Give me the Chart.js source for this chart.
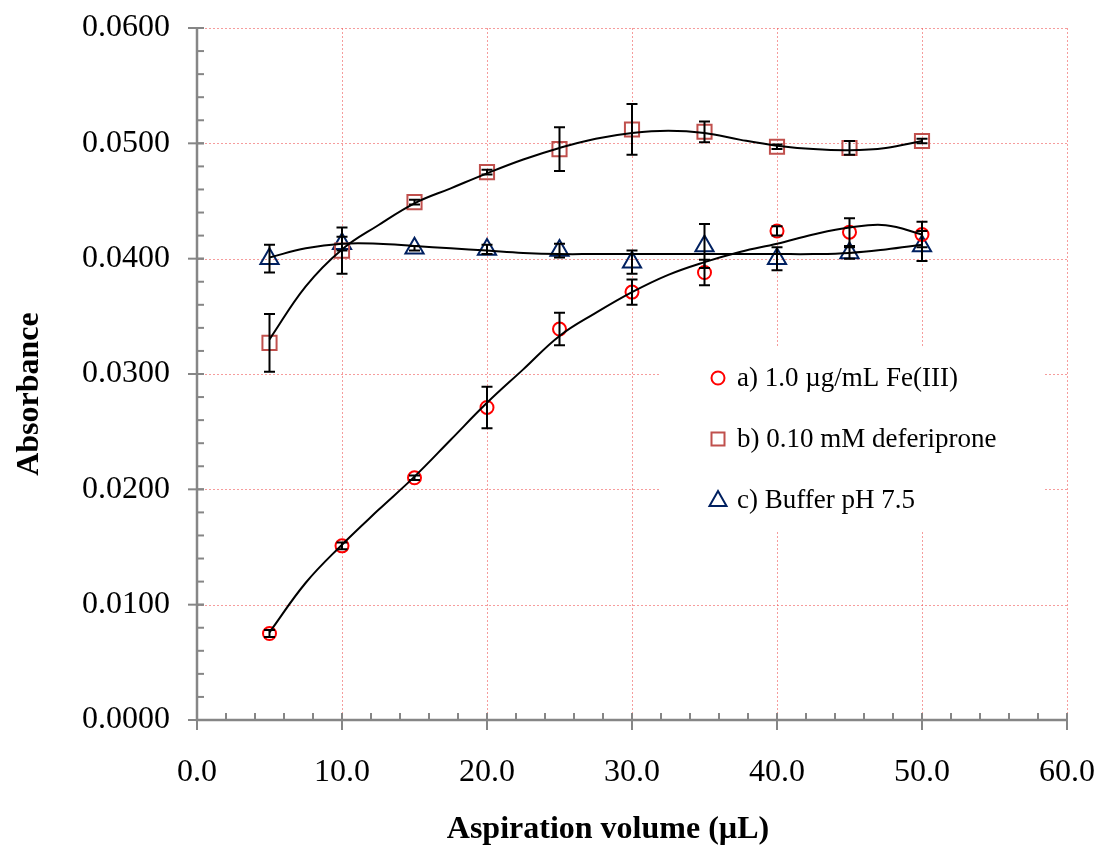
<!DOCTYPE html>
<html lang="en">
<head>
<meta charset="UTF-8">
<title>Absorbance vs aspiration volume</title>
<script src="https://cdn.jsdelivr.net/npm/chart.js"></script>
<style>
  html, body { margin: 0; padding: 0; background: white; }
  #wrap { width: 1099px; height: 848px; position: relative; }
</style>
</head>
<body>
<div id="wrap"><canvas id="chart"></canvas></div>
<script>
// measured points (x = aspiration volume, uL)
const volumes = [5, 10, 15, 20, 25, 30, 35, 40, 45, 50];
const feIII = [0.0075, 0.0151, 0.0210, 0.0271, 0.0339, 0.0371, 0.0388, 0.0424, 0.0423, 0.0421];
const feIIIErr = [0.0003, 0.0003, 0.0002, 0.0018, 0.0014, 0.0011, 0.0011, 0.0004, 0.0012, 0.0011];
const deferiprone = [0.0327, 0.0407, 0.0449, 0.0475, 0.0495, 0.0512, 0.0510, 0.0497, 0.0496, 0.0502];
const deferiproneErr = [0.0025, 0.0020, 0.0002, 0.0002, 0.0019, 0.0022, 0.0009, 0.0002, 0.0006, 0.0002];
const buffer = [0.0400, 0.0413, 0.0409, 0.0408, 0.0407, 0.0397, 0.0411, 0.0400, 0.0405, 0.0411];
const bufferErr = [0.0012, 0.0006, 0.0002, 0.0004, 0.0006, 0.0010, 0.0019, 0.0010, 0.0005, 0.0013];

// fitted trend curves
const curveX = [5, 7.5, 10, 12.5, 15, 17.5, 20, 22.5, 25, 27.5, 30, 32.5, 35, 37.5, 40, 42.5, 45, 47.5, 50];
const feIIICurve = [0.0076, 0.0119, 0.0152, 0.0182, 0.0211, 0.0243, 0.0275, 0.0304, 0.0333, 0.0353, 0.0371, 0.0386, 0.0397, 0.0406, 0.0413, 0.0421, 0.0427, 0.0429, 0.0421];
const deferiproneCurve = [0.0330, 0.0376, 0.0408, 0.0429, 0.0448, 0.0461, 0.0474, 0.0486, 0.0496, 0.0504, 0.0509, 0.0511, 0.0509, 0.0503, 0.0498, 0.0495, 0.0494, 0.0496, 0.0502];
const bufferCurve = [0.0401, 0.0409, 0.0413, 0.0413, 0.0411, 0.0409, 0.0407, 0.0405, 0.0404, 0.0404, 0.0404, 0.0404, 0.0404, 0.0404, 0.0404, 0.0404, 0.0405, 0.0408, 0.0412];

const legendLabels = ['a) 1.0 \u00b5g/mL Fe(III)', 'b) 0.10 mM deferiprone', 'c) Buffer pH 7.5'];
const xTitle = 'Aspiration volume (\u00b5L)';
const yTitle = 'Absorbance';

const SERIF = "'Times New Roman', 'Liberation Serif', serif";
const RED = '#FF0000', BROWN = '#C0504D', NAVY = '#002060';
const AXIS = '#868686';

function pts(xs, ys) { return xs.map((x, i) => ({ x: x, y: ys[i] })); }

function curveSet(ys) {
  return { data: pts(curveX, ys), showLine: true, borderColor: '#000', borderWidth: 2,
           tension: 0.4, pointRadius: 0, fill: false };
}
function markerSet(ys, style, r, color) {
  return { data: pts(volumes, ys), showLine: false, pointStyle: style, pointRadius: r,
           pointBorderWidth: 2, pointBorderColor: color, pointBackgroundColor: 'rgba(0,0,0,0)' };
}

const errorSets = [
  { vals: feIII, errs: feIIIErr },
  { vals: deferiprone, errs: deferiproneErr },
  { vals: buffer, errs: bufferErr }
];

function marker(ctx, style, x, y, color) {
  ctx.save();
  ctx.strokeStyle = color;
  ctx.lineWidth = 2;
  ctx.beginPath();
  if (style === 'circle') {
    ctx.arc(x, y, 6.5, 0, Math.PI * 2);
  } else if (style === 'rect') {
    ctx.rect(x - 6.5, y - 6.5, 13, 13);
  } else {
    ctx.moveTo(x, y - 9);
    ctx.lineTo(x + 8.5, y + 6);
    ctx.lineTo(x - 8.5, y + 6);
    ctx.closePath();
  }
  ctx.stroke();
  ctx.restore();
}

const decor = {
  id: 'decor',
  beforeDatasetsDraw(chart) {
    const { ctx, chartArea: a, scales: { x, y } } = chart;
    ctx.save();
    ctx.strokeStyle = 'rgba(240,90,90,0.6)';
    ctx.lineWidth = 1;
    ctx.setLineDash([2, 2]);
    x.ticks.forEach(t => {
      if (t.value === 0) return;
      const px = Math.round(x.getPixelForValue(t.value)) + 0.5;
      ctx.beginPath(); ctx.moveTo(px, a.top); ctx.lineTo(px, a.bottom); ctx.stroke();
    });
    y.ticks.forEach(t => {
      if (t.value === 0) return;
      const py = Math.round(y.getPixelForValue(t.value)) + 0.5;
      ctx.beginPath(); ctx.moveTo(a.left, py); ctx.lineTo(a.right, py); ctx.stroke();
    });
    ctx.restore();

    // legend box hides the grid behind it
    ctx.save();
    ctx.fillStyle = '#fff';
    ctx.fillRect(661, 347, 382, 183);
    ctx.restore();
  },
  afterDatasetsDraw(chart) {
    const { ctx, scales: { x, y } } = chart;
    ctx.save();
    ctx.strokeStyle = '#000';
    ctx.lineWidth = 2;
    errorSets.forEach(s => {
      volumes.forEach((v, i) => {
        const px = x.getPixelForValue(v);
        const top = y.getPixelForValue(s.vals[i] + s.errs[i]);
        const bot = y.getPixelForValue(s.vals[i] - s.errs[i]);
        ctx.beginPath();
        ctx.moveTo(px, top); ctx.lineTo(px, bot);
        ctx.moveTo(px - 5.5, top); ctx.lineTo(px + 5.5, top);
        ctx.moveTo(px - 5.5, bot); ctx.lineTo(px + 5.5, bot);
        ctx.stroke();
      });
    });
    ctx.restore();
  },
  afterDraw(chart) {
    const { ctx, chartArea: a, scales: { x, y } } = chart;
    ctx.save();
    ctx.strokeStyle = AXIS;
    ctx.lineWidth = 2.5;
    ctx.beginPath();
    ctx.moveTo(a.left, a.top); ctx.lineTo(a.left, a.bottom); ctx.lineTo(a.right, a.bottom);
    ctx.stroke();

    ctx.lineWidth = 2;
    // minor ticks, pointing in
    for (let i = 0; i <= 30; i++) {
      const py = y.getPixelForValue(i * 0.002);
      ctx.beginPath(); ctx.moveTo(a.left, py); ctx.lineTo(a.left + 7, py); ctx.stroke();
      const px = x.getPixelForValue(i * 2);
      ctx.beginPath(); ctx.moveTo(px, a.bottom); ctx.lineTo(px, a.bottom - 7); ctx.stroke();
    }
    // major ticks cross the axis
    y.ticks.forEach(t => {
      const py = y.getPixelForValue(t.value);
      ctx.beginPath(); ctx.moveTo(a.left - 9, py); ctx.lineTo(a.left + 7, py); ctx.stroke();
    });
    x.ticks.forEach(t => {
      const px = x.getPixelForValue(t.value);
      ctx.beginPath(); ctx.moveTo(px, a.bottom + 10); ctx.lineTo(px, a.bottom - 7); ctx.stroke();
    });
    ctx.restore();

    // axis titles (the original sits a bit off the plot centre)
    ctx.save();
    ctx.fillStyle = '#000';
    ctx.font = 'bold 32px ' + SERIF;
    ctx.textAlign = 'center';
    ctx.textBaseline = 'middle';
    ctx.fillText(xTitle, 608, 830);
    ctx.translate(30, 394);
    ctx.rotate(-Math.PI / 2);
    ctx.fillText(yTitle, 0, 0);
    ctx.restore();

    // legend
    const styles = ['circle', 'rect', 'triangle'];
    const colors = [RED, BROWN, NAVY];
    const rows = [378, 439, 500];
    ctx.save();
    ctx.font = '27px ' + SERIF;
    ctx.fillStyle = '#000';
    ctx.textBaseline = 'middle';
    legendLabels.forEach((lab, i) => {
      marker(ctx, styles[i], 718, rows[i], colors[i]);
      ctx.fillText(lab, 737, rows[i] + 1);
    });
    ctx.restore();
  }
};

new Chart(document.getElementById('chart'), {
  type: 'scatter',
  data: {
    datasets: [
      curveSet(feIIICurve),
      curveSet(deferiproneCurve),
      curveSet(bufferCurve),
      markerSet(feIII, 'circle', 6.5, RED),
      markerSet(deferiprone, 'rect', 10, BROWN),
      markerSet(buffer, 'triangle', 10.5, NAVY)
    ]
  },
  options: {
    responsive: true,
    maintainAspectRatio: false,
    animation: false,
    layout: { padding: { top: 28, right: 32, left: 0, bottom: 0 } },
    plugins: { legend: { display: false }, tooltip: { enabled: false } },
    scales: {
      x: {
        type: 'linear', min: 0, max: 60,
        grid: { display: false },
        border: { display: false },
        ticks: { stepSize: 10, padding: 25, color: '#000', maxRotation: 0,
                 font: { family: SERIF, size: 32 },
                 callback: v => v.toFixed(1) },
        afterFit: s => { s.height = 128; s.paddingLeft = 0; s.paddingRight = 0; }
      },
      y: {
        type: 'linear', min: 0, max: 0.06,
        grid: { display: false },
        border: { display: false },
        ticks: { stepSize: 0.01, padding: 19, color: '#000',
                 font: { family: SERIF, size: 32 },
                 callback: v => v.toFixed(4) },
        afterFit: s => { s.width = 197; s.paddingTop = 0; s.paddingBottom = 0; }
      }
    }
  },
  plugins: [decor]
});
</script>
</body>
</html>
